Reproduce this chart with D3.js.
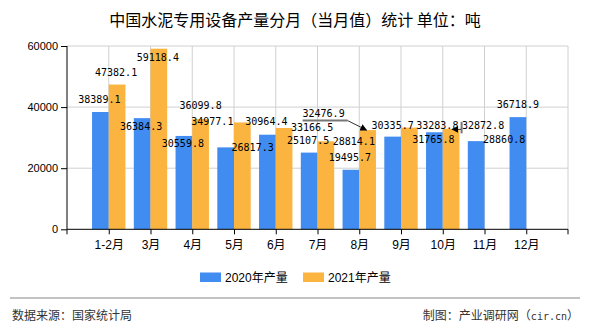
<!DOCTYPE html>
<html><head><meta charset="utf-8">
<script src="https://cdn.jsdelivr.net/npm/d3@7"></script>
<style>body{margin:0;background:#fff}svg{display:block}</style>
</head><body>
<svg id="c" width="590" height="330"></svg>
<script>
const categories = ["1-2月","3月","4月","5月","6月","7月","8月","9月","10月","11月","12月"];
const values2020 = [38389.1,36384.3,30559.8,26817.3,30964.4,25107.5,19495.7,30335.7,31765.8,28860.8,36718.9];
const values2021 = [47382.1,59118.4,36099.8,34977.1,33166.5,28814.1,32476.9,33283.8,32872.8,null,null];
const seriesNames = ["2020年产量","2021年产量"];
const yTicks = [0,20000,40000,60000];

// label placement tweaks (offset from bar centre / bar top), presentation only
const off2020 = [[-1,-9],[-1,12],[-1,11],[27,4],[-1,-10],[-1,-9],[-1,-9],[0,-8],[-1,11],[28,2],[0,-9]];
const off2021 = [[-1,-9],[-1,12],[0,-10],[-30,3],[28,3],[28,4],[-44,-13],[28,1],[32,0]];

const svg = d3.select("#c");
const X0 = 67, X1 = 568, Y0 = 229.3, Y1 = 46;
const step = (X1 - X0) / 12;
const x = d3.scalePoint().domain(categories).range([X0 + step, X1 - step]);
const y = d3.scaleLinear().domain([0, 60000]).range([Y0, Y1]);
const bw = step * 0.4;
const colors = ["#418CF0", "#FCB441"];
const lblFont = "'DejaVu Sans Mono', 'Liberation Mono', monospace";

// title
svg.append("text").attr("x", 295).attr("y", 19).attr("text-anchor", "middle")
  .attr("dominant-baseline", "central")
  .style("font-family", "'Noto Sans CJK SC', sans-serif").style("font-size", "16px").attr("fill", "#000")
  .text("中国水泥专用设备产量分月（当月值）统计 单位：吨");

// grid
const g = svg.append("g");
g.selectAll(".hg").data(yTicks.filter(d => d > 0)).join("line")
  .attr("x1", X0).attr("x2", X1).attr("y1", d => y(d)).attr("y2", d => y(d))
  .attr("stroke", "#d0d0d0").attr("stroke-width", 1);
g.selectAll(".vg").data(categories).join("line")
  .attr("x1", d => x(d)).attr("x2", d => x(d)).attr("y1", Y1).attr("y2", Y0)
  .attr("stroke", "#d0d0d0").attr("stroke-width", 1);
g.append("line").attr("x1", X1).attr("x2", X1).attr("y1", Y1).attr("y2", Y0)
  .attr("stroke", "#d0d0d0");

// bars
const bars = svg.append("g");
bars.selectAll(".b0").data(values2020.map((v, i) => ({v, c: categories[i]}))).join("rect")
  .attr("x", d => x(d.c) - bw).attr("width", bw)
  .attr("y", d => y(d.v)).attr("height", d => y(0) - y(d.v)).attr("fill", colors[0]);
bars.selectAll(".b1").data(values2021.map((v, i) => ({v, c: categories[i]})).filter(d => d.v != null)).join("rect")
  .attr("x", d => x(d.c)).attr("width", bw)
  .attr("y", d => y(d.v)).attr("height", d => y(0) - y(d.v)).attr("fill", colors[1]);

// axes
const ya = svg.append("g").attr("transform", `translate(${X0},0)`)
  .call(d3.axisLeft(y).tickValues(yTicks).tickSize(6).tickPadding(3).tickFormat(d3.format("d")));
ya.select(".domain").attr("stroke", "#000").attr("d", `M0,${Y1}V${Y0}`);
ya.selectAll(".tick line").attr("stroke", "#000");
ya.selectAll("text").style("font-family", "'Liberation Sans', Arial, sans-serif").style("font-size", "11px").attr("fill", "#000");

const xa = svg.append("g").attr("transform", `translate(0,${Y0})`)
  .call(d3.axisBottom(x).tickSize(5).tickPadding(6));
xa.select(".domain").attr("stroke", "#000").attr("d", `M${X0},0H${X1}`);
xa.selectAll(".tick line").attr("stroke", "#000");
xa.selectAll("text").style("font-family", "'Liberation Sans', 'Noto Sans CJK SC', sans-serif").style("font-size", "12px").attr("fill", "#000");
[X0, X1].forEach(px => xa.append("line").attr("x1", px).attr("x2", px).attr("y1", 0).attr("y2", 5).attr("stroke", "#000"));

// labels
const labels = svg.append("g").style("font-family", lblFont).style("font-size", "10px").attr("fill", "#000").attr("text-anchor", "middle");
values2020.forEach((v, i) => {
  const o = off2020[i];
  labels.append("text").attr("x", x(categories[i]) - bw / 2 + o[0]).attr("y", y(v) + o[1]).text(d3.format(".1f")(v));
});
values2021.forEach((v, i) => {
  if (v == null) return;
  const o = off2021[i];
  labels.append("text").attr("x", x(categories[i]) + bw / 2 + o[0]).attr("y", y(v) + o[1]).text(d3.format(".1f")(v));
});

// leader lines
svg.append("defs").append("marker").attr("id", "ah").attr("viewBox", "0 0 10 10").attr("refX", 9).attr("refY", 5)
  .attr("markerWidth", 7).attr("markerHeight", 7).attr("orient", "auto-start-reverse")
  .append("path").attr("d", "M0,0L10,5L0,10z").attr("fill", "#000");
{
  const bx = x(categories[6]) + bw / 2, by = y(values2021[6]);
  svg.append("line").attr("x1", bx - 65).attr("x2", bx - 20).attr("y1", by - 9.5).attr("y2", by - 9.5).attr("stroke", "#777").attr("stroke-width", 2);
  svg.append("line").attr("x1", bx - 20).attr("y1", by - 9.5).attr("x2", bx - 1).attr("y2", by).attr("stroke", "#333").attr("stroke-width", 1).attr("marker-end", "url(#ah)");
}
{
  const bx = x(categories[8]) + bw / 2, by = y(values2021[8]);
  svg.append("line").attr("x1", bx + 10.5).attr("x2", bx + 10.5).attr("y1", by - 7).attr("y2", by + 4.5).attr("stroke", "#777").attr("stroke-width", 2);
  svg.append("line").attr("x1", bx + 10).attr("y1", by + 0.5).attr("x2", bx + 1).attr("y2", by + 0.5).attr("stroke", "#333").attr("marker-end", "url(#ah)");
}

// legend
const lg = svg.append("g").style("font-family", "'Liberation Sans', 'Noto Sans CJK SC', sans-serif").style("font-size", "12px");
const legX = [200, 303];
seriesNames.forEach((n, i) => {
  lg.append("rect").attr("x", legX[i]).attr("y", 272.5).attr("width", 21).attr("height", 9.5).attr("fill", colors[i]);
  lg.append("text").attr("x", legX[i] + 25).attr("y", 282).attr("fill", "#000").text(n);
});

// footer
svg.append("line").attr("x1", 10).attr("x2", 580).attr("y1", 298).attr("y2", 298).attr("stroke", "#888").attr("stroke-width", 1.2);
const ff = svg.append("g").style("font-family", "'Noto Sans CJK SC', sans-serif").style("font-size", "12px").attr("fill", "#333");
ff.append("text").attr("x", 12).attr("y", 320).text("数据来源：国家统计局");
const fr = ff.append("text").attr("x", 579).attr("y", 320).attr("text-anchor", "end");
fr.append("tspan").text("制图：产业调研网（");
fr.append("tspan").style("font-family", "'DejaVu Sans Mono', monospace").style("font-size", "10px").text("cir.cn");
fr.append("tspan").text("）");
</script>
</body></html>
